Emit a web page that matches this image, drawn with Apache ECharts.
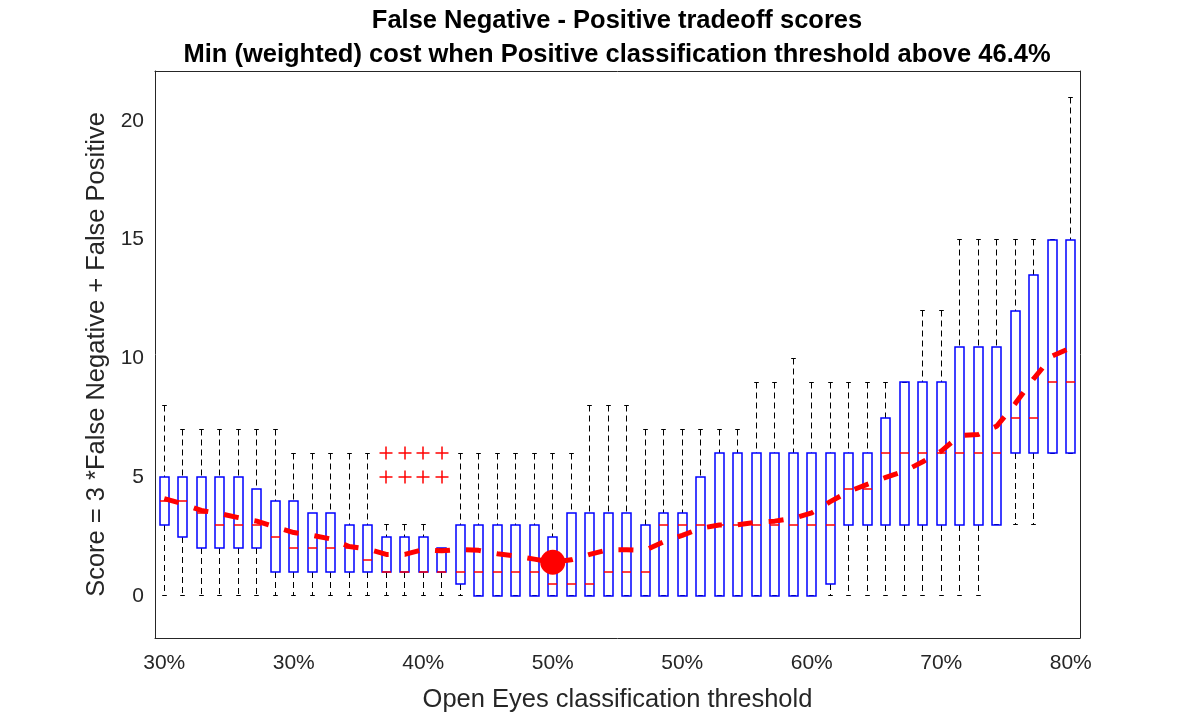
<!DOCTYPE html>
<html>
<head>
<meta charset="utf-8">
<title>False Negative - Positive tradeoff scores</title>
<script src="https://cdn.jsdelivr.net/npm/echarts@6/dist/echarts.min.js"></script>
<style>
  html, body { margin: 0; padding: 0; background: #fff; }
  #chart { width: 1195px; height: 718px; }
</style>
</head>
<body>
<div id="chart"></div>
<script>
// one box per threshold step (50 steps), labelled every 7th step
const boxIds = Array.from({ length: 50 }, (_, i) => String(i + 1));
const tickLabels = ['30%', '30%', '40%', '50%', '50%', '60%', '70%', '80%'];

// box statistics
const whiskerLow = [
  0, 0, 0, 0, 0, 0, 0, 0, 0, 0,
  0, 0, 0, 0, 0, 0, 0, 0, 0, 0,
  0, 0, 0, 0, 0, 0, 0, 0, 0, 0,
  0, 0, 0, 0, 0, 0, 0, 0, 0, 0,
  0, 0, 0, 0, 0, 3, 3, 3, 6, 6
];
const q1 = [
  3, 2.5, 2, 2, 2, 2, 1, 1, 1, 1,
  1, 1, 1, 1, 1, 1, 0.5, 0, 0, 0,
  0, 0, 0, 0, 0, 0, 0, 0, 0, 0,
  0, 0, 0, 0, 0, 0, 0.5, 3, 3, 3,
  3, 3, 3, 3, 3, 3, 6, 6, 6, 6
];
const medians = [
  4, 4, 3.5, 3, 3, 3, 2.5, 2, 2, 2,
  2, 1.5, 1, 1, 1, 1, 1, 1, 1, 1,
  1, 0.5, 0.5, 0.5, 1, 1, 1, 3, 3, 3,
  3, 3, 3, 3, 3, 3, 3, 4.5, 4.5, 6,
  6, 6, 6, 6, 6, 6, 7.5, 7.5, 9, 9
];
const q3 = [
  5, 5, 5, 5, 5, 4.5, 4, 4, 3.5, 3.5,
  3, 3, 2.5, 2.5, 2.5, 2, 3, 3, 3, 3,
  3, 2.5, 3.5, 3.5, 3.5, 3.5, 3, 3.5, 3.5, 5,
  6, 6, 6, 6, 6, 6, 6, 6, 6, 7.5,
  9, 9, 9, 10.5, 10.5, 10.5, 12, 13.5, 15, 15
];
const whiskerHigh = [
  8, 7, 7, 7, 7, 7, 7, 6, 6, 6,
  6, 6, 3, 3, 3, 2, 6, 6, 6, 6,
  6, 6, 6, 8, 8, 8, 7, 7, 7, 7,
  7, 7, 9, 9, 10, 9, 9, 9, 9, 9,
  9, 12, 12, 15, 15, 15, 15, 15, 15, 21
];
const meanScores = [
  4.1, 3.88, 3.6, 3.47, 3.3, 3.15, 2.9, 2.67, 2.55, 2.4,
  2.08, 1.97, 1.75, 1.75, 1.95, 1.9, 1.96, 1.92, 1.78, 1.68,
  1.55, 1.42, 1.52, 1.75, 1.95, 1.95, 1.92, 2.28, 2.55, 2.85,
  2.99, 3.0, 3.1, 3.15, 3.27, 3.5, 3.97, 4.4, 4.7, 4.99,
  5.25, 5.65, 6.1, 6.75, 6.8, 7.15, 8.1, 9.15, 10.1, 10.45
];
// outliers: [box number, score]
const outliers = [[13, 5], [13, 6], [14, 5], [14, 6], [15, 5], [15, 6], [16, 5], [16, 6]];
// minimum mean cost
const bestBox = 22;
const bestScore = 1.42;

const FONT = '"Liberation Sans", Arial, Helvetica, sans-serif';
const AXIS_COLOR = '#262626';

const boxData = boxIds.map((_, i) => [i, whiskerLow[i], q1[i], medians[i], q3[i], whiskerHigh[i]]);

const half = v => Math.round(v - 0.5) + 0.5;   // crisp 1px
const whole = v => Math.round(v);              // soft, matlab-like

function seg(x1, y1, x2, y2, color, width, dashed) {
  const style = { stroke: color, lineWidth: width, fill: null };
  if (dashed) style.lineDash = [6, 4];
  return { type: 'line', shape: { x1, y1, x2, y2 }, style };
}

// whiskers, caps, box and median; same child layout for every box
function renderBox(params, api) {
  const idx = api.value(0);
  const xc = api.coord([idx, 0])[0];
  const bw = api.size([1, 0])[0] * 0.5;
  const yv = k => api.coord([idx, api.value(k)])[1];
  const cx = half(xc);
  const capHalf = bw / 4;
  const left = whole(xc - bw / 2);
  const right = whole(xc + bw / 2);
  const yQ1 = whole(yv(2)), yQ3 = whole(yv(4)), yMed = whole(yv(3));
  const yLo = half(yv(1)), yHi = half(yv(5));
  return {
    type: 'group',
    children: [
      seg(cx, yHi, cx, yQ3, '#000000', 1, true),
      seg(cx, yQ1, cx, yLo, '#000000', 1, true),
      seg(cx - capHalf, yHi, cx + capHalf, yHi, '#000000', 1, false),
      seg(cx - capHalf, yLo, cx + capHalf, yLo, '#000000', 1, false),
      {
        type: 'rect',
        shape: { x: left, y: yQ3, width: right - left, height: yQ1 - yQ3 },
        style: { fill: null, stroke: '#0000ff', lineWidth: 1.5 }
      },
      seg(left, yMed, right, yMed, '#ff0000', 1.5, false)
    ]
  };
}

function renderPlus(params, api) {
  const p = api.coord([api.value(0), api.value(1)]);
  const x = whole(p[0]), y = whole(p[1]);
  const h = 6.5;
  return {
    type: 'group',
    children: [
      seg(x - h, y, x + h, y, '#ff0000', 1.5, false),
      seg(x, y - h, x, y + h, '#ff0000', 1.5, false)
    ]
  };
}

const tickStyle = () => ({ inside: true, length: 9, lineStyle: { color: AXIS_COLOR, width: 1 } });
const lineStyle = () => ({ show: true, onZero: false, lineStyle: { color: AXIS_COLOR, width: 1 } });

const chart = echarts.init(document.getElementById('chart'), null, { renderer: 'canvas' });

chart.setOption({
  animation: false,
  backgroundColor: '#fff',
  textStyle: { fontFamily: FONT },
  grid: { left: 155, right: 115, top: 71, bottom: 80, containLabel: false, outerBoundsMode: 'none' },
  graphic: [
    {
      type: 'text', x: 617, y: 21,
      style: {
        text: 'False Negative - Positive tradeoff scores',
        font: 'bold 25.5px ' + FONT, fill: '#000', align: 'center', verticalAlign: 'middle'
      }
    },
    {
      type: 'text', x: 617, y: 55,
      style: {
        text: 'Min (weighted) cost when Positive classification threshold above 46.4%',
        font: 'bold 25.5px ' + FONT, fill: '#000', align: 'center', verticalAlign: 'middle'
      }
    }
  ],
  xAxis: [
    {
      type: 'category',
      data: boxIds,
      boundaryGap: true,
      axisLine: lineStyle(),
      axisTick: Object.assign({ interval: 6, alignWithLabel: true }, tickStyle()),
      axisLabel: {
        interval: 6,
        margin: 15,
        fontSize: 21,
        color: AXIS_COLOR,
        fontFamily: FONT,
        formatter: (v, idx) => tickLabels[Math.round(idx / 7)]
      },
      splitLine: { show: false },
      name: 'Open Eyes classification threshold',
      nameLocation: 'middle',
      nameGap: 49,
      nameTextStyle: { fontSize: 25.5, color: AXIS_COLOR, fontFamily: FONT }
    },
    {
      type: 'category',
      data: boxIds,
      position: 'top',
      boundaryGap: true,
      axisLine: lineStyle(),
      axisTick: Object.assign({ interval: 6, alignWithLabel: true }, tickStyle()),
      axisLabel: { show: false },
      splitLine: { show: false }
    }
  ],
  yAxis: [
    {
      type: 'value',
      min: -1.77,
      max: 22.1,
      splitNumber: 5,
      axisLine: lineStyle(),
      axisTick: tickStyle(),
      axisLabel: {
        showMinLabel: false,
        showMaxLabel: false,
        margin: 11,
        fontSize: 21,
        color: AXIS_COLOR,
        fontFamily: FONT,
        formatter: v => (Math.abs(v % 5) < 1e-9 ? String(v) : '')
      },
      splitLine: { show: false },
      name: 'Score = 3 *False Negative + False Positive',
      nameLocation: 'middle',
      nameRotate: 90,
      nameGap: 44,
      nameTextStyle: { fontSize: 25.5, color: AXIS_COLOR, fontFamily: FONT }
    },
    {
      type: 'value',
      min: -1.77,
      max: 22.1,
      splitNumber: 5,
      position: 'right',
      axisLine: lineStyle(),
      axisTick: tickStyle(),
      axisLabel: { show: false },
      splitLine: { show: false }
    }
  ],
  series: [
    {
      type: 'custom',
      name: 'boxes',
      renderItem: renderBox,
      data: boxData,
      encode: { x: 0, y: [1, 2, 3, 4, 5] },
      z: 2
    },
    {
      type: 'custom',
      name: 'outliers',
      renderItem: renderPlus,
      data: outliers.map(o => [o[0] - 1, o[1]]),
      encode: { x: 0, y: 1 },
      z: 3
    },
    {
      type: 'line',
      name: 'mean',
      data: meanScores,
      symbol: 'none',
      showSymbol: false,
      lineStyle: { color: '#ff0000', width: 5, type: [15, 16], cap: 'butt' },
      z: 4
    },
    {
      type: 'scatter',
      name: 'best',
      data: [[bestBox - 1, bestScore]],
      symbol: 'circle',
      symbolSize: 25,
      itemStyle: { color: '#ff0000', opacity: 1 },
      z: 5
    }
  ]
});
</script>
</body>
</html>
